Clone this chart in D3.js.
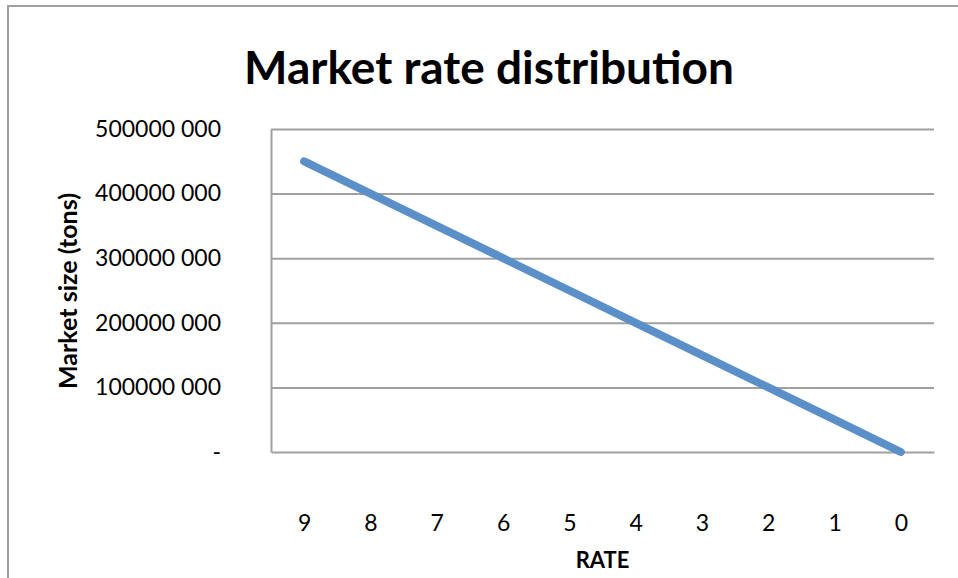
<!DOCTYPE html>
<html>
<head>
<meta charset="utf-8">
<script src="https://cdn.jsdelivr.net/npm/d3@7"></script>
<style>
  body { margin: 0; background: #fff; }
  svg { display: block; font-family: Lato, "Open Sans", sans-serif; }
</style>
</head>
<body>
<div id="chart"></div>
<script>
// Market rate distribution - line chart

var rates = ["9", "8", "7", "6", "5", "4", "3", "2", "1", "0"];
var marketSize = [450000000, 400000000, 350000000, 300000000, 250000000,
                  200000000, 150000000, 100000000, 50000000, 0];
var yTicks = [0, 100000000, 200000000, 300000000, 400000000, 500000000];
var yTickLabels = ["-", "100000 000", "200000 000", "300000 000", "400000 000", "500000 000"];

var width = 958, height = 578;
var margin = {top: 129, bottom: 126, left: 271, right: 24};
var plotWidth = width - margin.left - margin.right;
var plotHeight = height - margin.top - margin.bottom;

var svg = d3.select("#chart").append("svg")
  .attr("width", width)
  .attr("height", height);

// outer chart border (runs off the right/bottom edge)
svg.append("rect")
  .attr("x", 8).attr("y", 6)
  .attr("width", 1000).attr("height", 1000)
  .attr("fill", "none")
  .attr("stroke", "#a0a0a0")
  .attr("stroke-width", 2);

// title
svg.append("text")
  .attr("x", 489).attr("y", 84)
  .attr("text-anchor", "middle")
  .attr("font-weight", "bold")
  .attr("font-size", 46)
  .text("Market rate distribution");

var plot = svg.append("g")
  .attr("transform", "translate(" + margin.left + "," + margin.top + ")");

// scales
var xScale = d3.scalePoint()
  .domain(rates)
  .range([0, plotWidth])
  .padding(0.5);
var yScale = d3.scaleLinear()
  .domain([0, 500000000])
  .range([plotHeight, 0]);

// gridlines
plot.append("g")
  .attr("class", "grid")
  .call(d3.axisLeft(yScale)
    .tickValues(yTicks.slice(1))
    .tickSize(-plotWidth)
    .tickFormat(""))
  .call(function(g) { g.select(".domain").remove(); })
  .selectAll("line")
    .attr("stroke", "#a0a0a0")
    .attr("stroke-width", 2);

// y axis
var yAxis = plot.append("g")
  .call(d3.axisLeft(yScale)
    .tickValues(yTicks)
    .tickSize(0)
    .tickPadding(50)
    .tickFormat(function(d, i) { return yTickLabels[i]; }));
yAxis.select(".domain").attr("stroke", "#a0a0a0").attr("stroke-width", 2);
yAxis.selectAll("text")
  .attr("font-family", "Lato, 'Open Sans', sans-serif")
  .attr("font-size", 23)
  .attr("fill", "#000");

// x axis
var xAxis = plot.append("g")
  .attr("transform", "translate(0," + plotHeight + ")")
  .call(d3.axisBottom(xScale)
    .tickSize(0)
    .tickPadding(79));
xAxis.select(".domain").attr("stroke", "#a0a0a0").attr("stroke-width", 2);
xAxis.selectAll("text")
  .attr("font-family", "Lato, 'Open Sans', sans-serif")
  .attr("font-size", 23)
  .attr("fill", "#000")
  .attr("dy", "0");

// axis titles
svg.append("text")
  .attr("transform", "translate(77,291) rotate(-90)")
  .attr("text-anchor", "middle")
  .attr("font-weight", "bold")
  .attr("font-size", 25)
  .text("Market size (tons)");

svg.append("text")
  .attr("x", margin.left + plotWidth / 2)
  .attr("y", 568)
  .attr("text-anchor", "middle")
  .attr("font-weight", "bold")
  .attr("font-size", 22)
  .text("RATE");

// line
var line = d3.line()
  .x(function(d, i) { return xScale(rates[i]); })
  .y(function(d) { return yScale(d); });

plot.append("path")
  .datum(marketSize)
  .attr("fill", "none")
  .attr("stroke", "#5b8fc8")
  .attr("stroke-width", 8)
  .attr("stroke-linecap", "round")
  .attr("stroke-linejoin", "round")
  .attr("d", line);
</script>
</body>
</html>
